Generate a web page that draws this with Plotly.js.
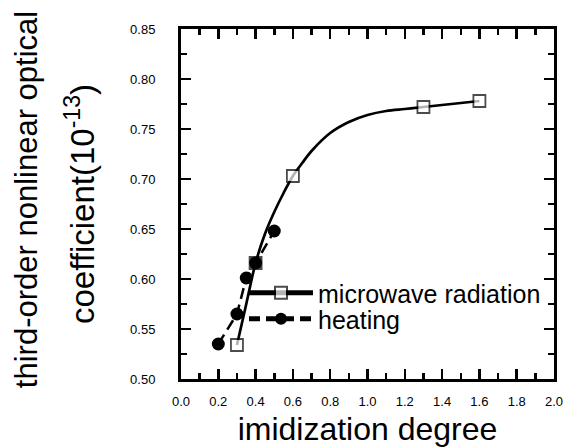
<!DOCTYPE html>
<html>
<head>
<meta charset="utf-8">
<script src="https://cdn.plot.ly/plotly-3.0.1.min.js"></script>
<style>html,body{margin:0;padding:0;background:#fff;}#chart{width:569px;height:447px;}</style>
</head>
<body>
<div id="chart"></div>
<script>
// Microwave radiation data points (open squares; the one at 0.4 is drawn filled)
const mwX = [0.3, 0.4, 0.6, 1.3, 1.6];
const mwY = [0.534, 0.616, 0.703, 0.772, 0.778];
const mwFill = ['#ffffff', '#000000', '#ffffff', '#ffffff', '#ffffff'];
// Points read along the drawn smooth curve through the microwave data
const curveX = [0.35, 0.45, 0.5, 0.55, 0.65, 0.7, 0.8, 0.9, 1.0, 1.1, 1.2, 1.45];
const curveY = [0.575, 0.645, 0.667, 0.686, 0.716, 0.728, 0.746, 0.757, 0.764, 0.768, 0.770, 0.775];
// Heating data points (filled circles)
const heatX = [0.2, 0.3, 0.35, 0.4, 0.5];
const heatY = [0.535, 0.565, 0.601, 0.616, 0.648];
// Axis ranges and tick steps
const xRange = [0, 2], xStep = 0.2, xMinorStep = 0.1;
const yRange = [0.5, 0.85], yStep = 0.05, yMinorStep = 0.025;

const FONT = 'Liberation Sans, Arial, Helvetica, sans-serif';

// merge microwave data points with the curve points (curve points carry no marker)
const mw = mwX.map((x, i) => ({x, y: mwY[i], s: 12, c: mwFill[i]}))
  .concat(curveX.map((x, i) => ({x, y: curveY[i], s: 0, c: '#ffffff'})))
  .sort((a, b) => a.x - b.x);

const heating = {
  x: heatX, y: heatY, name: 'heating', type: 'scatter', mode: 'lines+markers',
  line: {color: '#000', width: 2.5, dash: '11px,6px'},
  marker: {symbol: 'circle', size: 13, color: '#000', line: {width: 0}},
  legend: 'legend2'
};
const microwave = {
  x: mw.map(p => p.x), y: mw.map(p => p.y), name: 'microwave radiation', type: 'scatter',
  mode: 'lines+markers',
  line: {color: '#000', width: 2.7, shape: 'spline', smoothing: 1},
  marker: {symbol: 'square', size: mw.map(p => p.s), color: mw.map(p => p.c), line: {color: '#000', width: 1.8}},
  legend: 'legend'
};

function axis(range, step, minorStep, fmt, standoff, title) {
  return {
    range: range, tickmode: 'linear', tick0: range[0], dtick: step, tickformat: fmt,
    showgrid: false, zeroline: false, showline: true, linecolor: '#000', linewidth: 3,
    mirror: 'ticks', ticks: 'inside', ticklen: 10, tickwidth: 2.5, tickcolor: '#000',
    ticklabelstandoff: standoff,
    tickfont: {family: FONT, size: 13, color: '#000'},
    minor: {tickmode: 'linear', tick0: range[0], dtick: minorStep, ticks: 'inside', ticklen: 6, tickwidth: 2.5, tickcolor: '#000', showgrid: false},
    title: title
  };
}

const layout = {
  width: 569, height: 447,
  margin: {l: 181, r: 15, t: 29, b: 68},
  paper_bgcolor: '#fff', plot_bgcolor: '#fff',
  font: {family: FONT, color: '#000'},
  showlegend: true,
  xaxis: axis(xRange, xStep, xMinorStep, '.1f', 8,
    {text: 'imidization degree', font: {family: FONT, size: 32, color: '#000'}, standoff: 12}),
  yaxis: axis(yRange, yStep, yMinorStep, '.2f', 20,
    {text: 'coefficient(10<sup>-13</sup>)', font: {family: FONT, size: 33, color: '#000'}, standoff: 26}),
  legend: {
    x: 0.1689, xanchor: 'left', y: 0.3114, yanchor: 'top',
    bgcolor: 'rgba(0,0,0,0)', borderwidth: 0, itemwidth: 64, itemsizing: 'constant',
    font: {family: FONT, size: 25, color: '#000'}
  },
  legend2: {
    x: 0.1689, xanchor: 'left', y: 0.237, yanchor: 'top',
    bgcolor: 'rgba(0,0,0,0)', borderwidth: 0, itemwidth: 64, itemsizing: 'constant',
    font: {family: FONT, size: 25, color: '#000'}
  },
  annotations: [{
    text: 'third-order nonlinear optical', xref: 'paper', yref: 'paper',
    x: -0.4155, y: 0.511, xanchor: 'center', yanchor: 'middle', textangle: -90,
    showarrow: false, font: {family: FONT, size: 31, color: '#000'}
  }]
};

Plotly.newPlot('chart', [heating, microwave], layout, {displayModeBar: false, staticPlot: true}).then(gd => {
  // Re-parent copies of Plotly's own tick marks into the top SVG layer so nothing hides them
  const svgs = gd.querySelectorAll('svg.main-svg');
  const top = svgs[svgs.length - 1];
  const g = document.createElementNS('http://www.w3.org/2000/svg', 'g');
  gd.querySelectorAll('path.xtick, path.ytick').forEach(p => {
    const c = p.cloneNode(true);
    let m = null;
    try { m = p.getCTM(); } catch (e) { m = null; }
    if (m) c.setAttribute('transform', 'matrix(' + [m.a, m.b, m.c, m.d, m.e, m.f].join(',') + ')');
    c.style.display = 'inline';
    c.style.visibility = 'visible';
    c.style.opacity = '1';
    c.style.stroke = '#000';
    c.style.strokeOpacity = '1';
    c.style.strokeWidth = '2.5px';
    c.style.fill = 'none';
    g.appendChild(c);
  });
  top.appendChild(g);
});
</script>
</body>
</html>
